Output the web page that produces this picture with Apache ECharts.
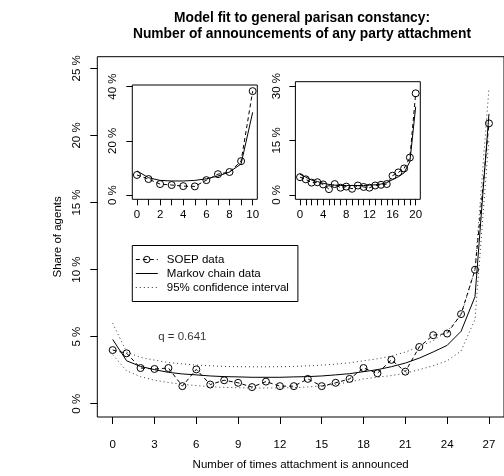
<!DOCTYPE html>
<html><head><meta charset="utf-8">
<script src="https://cdn.jsdelivr.net/npm/echarts@6/dist/echarts.min.js"></script>
<style>html,body{margin:0;padding:0;background:#fff}#c{width:504px;height:476px}</style>
</head><body><div id="c"></div>
<script>
// ---------- data (shares in %) ----------
const mainX = [0,1,2,3,4,5,6,7,8,9,10,11,12,13,14,15,16,17,18,19,20,21,22,23,24,25,26,27];
const soepMain = [4.0,3.76,2.66,2.59,2.66,1.31,2.56,1.43,1.75,1.56,1.24,1.65,1.31,1.31,1.85,1.31,1.56,1.85,2.66,2.27,3.27,2.39,4.23,5.11,5.23,6.68,9.99,20.9];
const markovMain = [4.79,3.2,2.78,2.54,2.34,2.22,2.15,2.07,2.02,2.0,1.97,1.97,1.97,2.0,2.02,2.07,2.15,2.24,2.39,2.54,2.76,3.03,3.4,3.86,4.35,5.4,7.98,21.6];
const ciUpper = [6.0,3.85,3.45,3.25,3.07,2.97,2.88,2.83,2.78,2.76,2.75,2.75,2.76,2.78,2.82,2.88,2.95,3.05,3.2,3.35,3.55,3.85,4.25,4.7,5.4,6.6,10.0,23.5];
const ciLower = [3.65,2.45,2.02,1.75,1.58,1.45,1.35,1.27,1.22,1.19,1.17,1.17,1.18,1.2,1.25,1.33,1.45,1.62,1.85,1.97,2.1,2.27,2.54,2.83,3.2,3.93,6.3,19.8];

const inset1X = [0,1,2,3,4,5,6,7,8,9,10];
const soepInset1 = [7.4,5.9,4.05,3.7,3.3,3.2,5.5,7.7,8.5,12.5,38.3];
const markovInset1 = [8.9,6.4,5.4,5.2,5.2,5.4,6.0,7.0,8.5,11.5,30.5];

const inset2X = [0,1,2,3,4,5,6,7,8,9,10,11,12,13,14,15,16,17,18,19,20];
const soepInset2 = [4.9,4.3,3.4,3.5,2.9,1.6,3.0,2.0,2.3,1.7,2.6,2.2,2.0,2.6,2.8,3.0,5.3,6.2,7.3,10.3,28.0];
const markovInset2 = [5.7,4.9,4.1,3.7,3.2,2.9,2.7,2.6,2.6,2.6,2.6,2.6,2.7,2.8,3.0,3.4,4.2,5.0,6.1,9.2,24.3];

// ---------- tick labels ----------
const mainXTicks = [0,3,6,9,12,15,18,21,24,27];
const mainYTicks = [0,5,10,15,20,25];
const inset1XTicks = [0,1,2,3,4,5,6,7,8,9,10];
const inset1XLabels = [0,2,4,6,8,10];
const inset1YTicks = [0,20,40];
const inset2XTicks = [0,1,2,3,4,5,6,7,8,9,10,11,12,13,14,15,16,17,18,19,20];
const inset2XLabels = [0,4,8,12,16,20];
const inset2YTicks = [0,15,30];

const titleText = 'Model fit to general parisan constancy:\nNumber of announcements of any party attachment';
const qText = 'q = 0.641';
const qPos = [5, 5];
const names = ['SOEP data', 'Markov chain data', '95% confidence interval'];

// ---------- helpers ----------
const FONT = '"Liberation Sans", Arial, Helvetica, sans-serif';
const FS = 11.5;
const pairs = (xs, ys) => xs.map((x, i) => [x, ys[i]]);

function xAxisDef(gi, min, max, ticks, labels, tickLen, margin, name, nameGap) {
  return {
    type: 'value', gridIndex: gi, min: min, max: max, position: 'bottom',
    axisLine: { show: false, onZero: false },
    splitLine: { show: false },
    axisTick: { show: true, inside: false, length: tickLen, customValues: ticks, lineStyle: { color: '#000', width: 1 } },
    axisLabel: { show: true, customValues: labels, margin: margin, color: '#000', fontSize: FS, fontFamily: FONT, formatter: v => String(v) },
    name: name || '', nameLocation: 'middle', nameGap: nameGap || 0,
    nameTextStyle: { color: '#000', fontSize: FS, fontFamily: FONT }
  };
}
function yAxisDef(gi, min, max, ticks, tickLen, margin, name, nameGap) {
  return {
    type: 'value', gridIndex: gi, min: min, max: max, position: 'left',
    axisLine: { show: false, onZero: false },
    splitLine: { show: false },
    axisTick: { show: true, inside: false, length: tickLen, customValues: ticks, lineStyle: { color: '#000', width: 1 } },
    axisLabel: { show: true, customValues: ticks, rotate: 90, margin: margin, color: '#000', fontSize: FS, fontFamily: FONT, formatter: v => v + ' %' },
    name: name || '', nameLocation: 'middle', nameGap: nameGap || 0,
    nameTextStyle: { color: '#000', fontSize: FS, fontFamily: FONT }
  };
}
const soepStyle = {
  type: 'line', symbol: 'circle', symbolSize: 7, showAllSymbol: true,
  lineStyle: { color: '#000', width: 1, type: [4, 3] },
  itemStyle: { color: 'rgba(0,0,0,0)', borderColor: '#000', borderWidth: 1 }
};
const markovStyle = {
  type: 'line', symbol: 'none',
  lineStyle: { color: '#000', width: 1, type: 'solid' },
  itemStyle: { color: 'rgba(0,0,0,0)', borderWidth: 0 }
};
const ciStyle = {
  type: 'line', symbol: 'none',
  lineStyle: { color: '#333', width: 1, type: [1, 3] },
  itemStyle: { color: 'rgba(0,0,0,0)', borderWidth: 0 }
};

const chart = echarts.init(document.getElementById('c'), null, { renderer: 'canvas' });
chart.setOption({
  animation: false,
  backgroundColor: '#fff',
  textStyle: { fontFamily: FONT },
  graphic: [{
    type: 'text', x: 302, y: 10, z: 100,
    style: { text: titleText, textAlign: 'center', textVerticalAlign: 'top', fontSize: 13.8, fontWeight: 'bold', fontFamily: FONT, lineHeight: 16, fill: '#000' }
  }],
  grid: [
    { left: 97.3, top: 56.7, width: 407.1, height: 365.3, show: true, borderColor: '#000', borderWidth: 1, backgroundColor: 'rgba(0,0,0,0)' },
    { left: 132.3, top: 85, width: 125, height: 114.3, show: true, borderColor: '#000', borderWidth: 1, backgroundColor: '#fff' },
    { left: 295.4, top: 81.7, width: 124.9, height: 117.6, show: true, borderColor: '#000', borderWidth: 1, backgroundColor: '#fff' }
  ],
  xAxis: [
    xAxisDef(0, -1.104, 28.08, mainXTicks, mainXTicks, 7, 22, 'Number of times attachment is announced', 42),
    xAxisDef(1, -0.4, 10.4, inset1XTicks, inset1XLabels, 6, 10),
    xAxisDef(2, -0.8, 20.8, inset2XTicks, inset2XLabels, 6, 10)
  ],
  yAxis: [
    yAxisDef(0, -0.99, 25.87, mainYTicks, 7, 14, 'Share of agents', 21),
    yAxisDef(1, -1.56, 40.56, inset1YTicks, 6, 13),
    yAxisDef(2, -1.2, 31.2, inset2YTicks, 6, 13)
  ],
  legend: {
    data: [
      { name: names[0] },
      { name: names[1], itemStyle: { opacity: 0 } },
      { name: names[2], itemStyle: { opacity: 0 } }
    ],
    orient: 'vertical', left: 132.3, top: 245.5,
    padding: [7, 9, 7, 3], itemGap: 0, itemWidth: 22, itemHeight: 8,
    backgroundColor: '#fff', borderColor: '#000', borderWidth: 1, borderRadius: 0,
    selectedMode: false,
    lineStyle: { width: 1 },
    itemStyle: { borderWidth: 1 },
    textStyle: { color: '#000', fontSize: FS, fontFamily: FONT, lineHeight: 14, padding: [0, 0, 0, 4] }
  },
  series: [
    Object.assign({ name: names[2], xAxisIndex: 0, yAxisIndex: 0, data: pairs(mainX, ciUpper) }, ciStyle),
    Object.assign({ name: names[2], xAxisIndex: 0, yAxisIndex: 0, data: pairs(mainX, ciLower) }, ciStyle),
    Object.assign({ name: names[1], xAxisIndex: 0, yAxisIndex: 0, data: pairs(mainX, markovMain) }, markovStyle),
    Object.assign({ name: names[0], xAxisIndex: 0, yAxisIndex: 0, data: pairs(mainX, soepMain) }, soepStyle),
    Object.assign({ name: 'inset1 markov', xAxisIndex: 1, yAxisIndex: 1, data: pairs(inset1X, markovInset1) }, markovStyle),
    Object.assign({ name: 'inset1 soep', xAxisIndex: 1, yAxisIndex: 1, data: pairs(inset1X, soepInset1) }, soepStyle),
    Object.assign({ name: 'inset2 markov', xAxisIndex: 2, yAxisIndex: 2, data: pairs(inset2X, markovInset2) }, markovStyle),
    Object.assign({ name: 'inset2 soep', xAxisIndex: 2, yAxisIndex: 2, data: pairs(inset2X, soepInset2) }, soepStyle),
    {
      name: 'q label', type: 'scatter', xAxisIndex: 0, yAxisIndex: 0, symbolSize: 0, silent: true,
      data: [qPos],
      label: { show: true, position: 'inside', formatter: qText, color: '#000', fontSize: FS, fontFamily: FONT }
    }
  ]
});
</script>
</body></html>
